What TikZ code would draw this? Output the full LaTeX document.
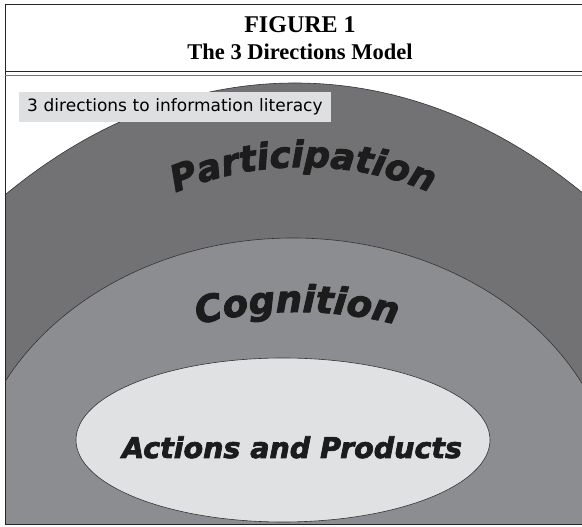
\documentclass[tikz,border=0pt]{standalone}
\usepackage{fontspec}
\setmainfont{Liberation Serif}
\newfontfamily\labelfont{DejaVu Sans}
\newfontfamily\artfont{DejaVu Sans Bold Oblique}[FakeBold=2.6]
\usetikzlibrary{decorations.text}
\definecolor{outerring}{RGB}{114,114,117}
\definecolor{midring}{RGB}{140,141,145}
\definecolor{innerring}{RGB}{224,225,227}
\definecolor{labelfill}{RGB}{222,223,225}
\definecolor{inkdark}{RGB}{28,28,28}
\tikzstyle{ring}  = [draw=black!80, line width=0.6pt]
\tikzstyle{arch}  = [decorate, decoration={text along path, text align=center, text color=inkdark}]

\begin{document}
\begin{tikzpicture}[x=1pt,y=1pt]
        \useasboundingbox (0,0) rectangle (582,527);
        \begin{scope}
            \clip (5,2) rectangle (582,451);
            \draw[ring, fill=outerring] (295,-456) ellipse [x radius=600, y radius=900];
            \draw[ring, fill=midring] (293,21) ellipse [x radius=325, y radius=268];
            \draw[ring, fill=innerring] (283,87) ellipse [x radius=207, y radius=82];
        \end{scope}
        % curved titles of the rings
        \path[arch, decoration={text={|\artfont\fontsize{36pt}{36pt}\selectfont|Participation}}]
            (303,30) ++(120:330) arc[start angle=120, end angle=60, radius=330];
        \path[arch, decoration={text={|\artfont\fontsize{37pt}{37pt}\selectfont|Cognition}}]
            (297,-185) ++(112:400) arc[start angle=112, end angle=68, radius=400];
        \node[font=\artfont\fontsize{28.5pt}{28.5pt}\selectfont, text=inkdark, anchor=base] (N2) at (292,69) {Actions and Products};
        \node[fill=labelfill, anchor=south west, minimum height=30, inner xsep=8, inner ysep=0,
              text width=296, align=left, font=\labelfont\fontsize{17pt}{17pt}\selectfont] (L0) at (19,405) {3 directions to information literacy};
        % header
        \node[font=\bfseries\fontsize{24pt}{24pt}\selectfont, anchor=base] (T0) at (300,494) {FIGURE 1};
        \node[font=\bfseries\fontsize{22.5pt}{22.5pt}\selectfont, anchor=base] (T1) at (300,467) {The 3 Directions Model};
        \draw[line width=1pt, black!85] (5,2) rectangle (582,522);
        \draw[line width=0.8pt, black!85] (5,456) -- (582,456);
        \draw[line width=1.4pt, black!55] (5,451.5) -- (582,451.5);
    \end{tikzpicture}
\end{document}
